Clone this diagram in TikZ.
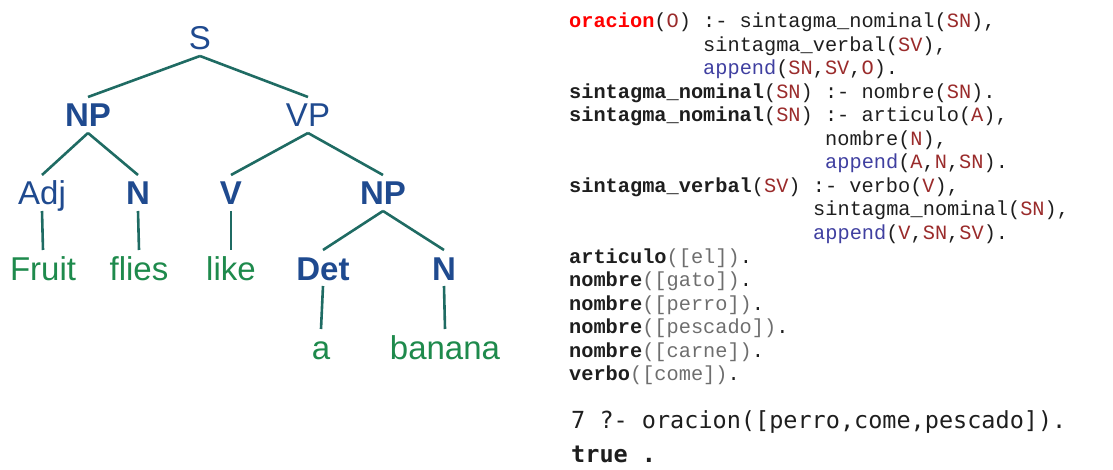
\documentclass[tikz,border=0pt]{standalone}
\usepackage{fontspec}
\setmainfont{Liberation Sans}
\newfontfamily\codefont{Liberation Mono}
\newfontfamily\termfont{DejaVu Sans Mono}
\definecolor{treeblue}{HTML}{1F4A8F}
\definecolor{treegreen}{HTML}{1E8A4C}
\definecolor{treeline}{HTML}{1F6B63}
\definecolor{predred}{HTML}{FF0000}
\definecolor{varred}{HTML}{9A2B2B}
\definecolor{appblue}{HTML}{3F3FA0}
\definecolor{listgray}{HTML}{6E6E6E}
\definecolor{codeblack}{HTML}{1E1E1E}
\newcommand{\pPred}[1]{\textcolor{predred}{\textbf{#1}}}
\newcommand{\pVar}[1]{\textcolor{varred}{#1}}
\newcommand{\pApp}[1]{\textcolor{appblue}{#1}}
\newcommand{\pList}[1]{\textcolor{listgray}{#1}}
\begin{document}
\begin{tikzpicture}[x=1pt,y=-1pt,
  cat/.style={font=\fontsize{33}{33}\selectfont, text=treeblue, inner sep=0pt, outer sep=6pt, text height=24pt, text depth=0pt},
  bcat/.style={cat, font=\fontsize{33}{33}\selectfont\bfseries},
  word/.style={cat, text=treegreen},
  edge/.style={draw=treeline, line width=2.6pt},
  code/.style={anchor=base west, inner sep=0pt, font=\fontsize{20.3}{23.5}\selectfont\codefont, text=codeblack},
  term/.style={anchor=base west, inner sep=0pt, font=\fontsize{23.5}{23.5}\selectfont\termfont, text=codeblack},
]
\useasboundingbox (0,0) rectangle (1113,470);
% tree
\node[cat]  (S)      at (200,38)  {S};
\node[bcat] (np1)    at (88,115)  {NP};
\node[cat]  (vp)     at (308,115) {VP};
\node[cat]  (adj)    at (42,193)  {Adj};
\node[bcat] (n1)     at (138,193) {N};
\node[bcat] (v)      at (231,193) {V};
\node[bcat] (np2)    at (383,193) {NP};
\node[word] (fruit)  at (43,268)  {Fruit};
\node[word] (flies)  at (139,268) {flies};
\node[word] (like)   at (231,268) {like};
\node[bcat] (det)    at (323,268) {Det};
\node[bcat] (n2)     at (444,268) {N};
\node[word] (a)      at (321,347) {a};
\node[word] (banana) at (445,347) {banana};
\draw[edge] (S.south) -- (np1.north);
\draw[edge] (S.south) -- (vp.north);
\draw[edge] (np1.south) -- (adj.north);
\draw[edge] (np1.south) -- (n1.north);
\draw[edge] (vp.south) -- (v.north);
\draw[edge] (vp.south) -- (np2.north);
\draw[edge] (adj.south) -- (fruit.north);
\draw[edge] (n1.south) -- (flies.north);
\draw[edge] (v.south) -- (like.north);
\draw[edge] (np2.south) -- (det.north);
\draw[edge] (np2.south) -- (n2.north);
\draw[edge] (det.south) -- (a.north);
\draw[edge] (n2.south) -- (banana.north);
% code
\node[code] (c1)  at (569,28)    {\pPred{oracion}(\pVar{O}) :- sintagma\_nominal(\pVar{SN}),};
\node[code] (c2)  at (703,51.5)  {sintagma\_verbal(\pVar{SV}),};
\node[code] (c3)  at (703,75)    {\pApp{append}(\pVar{SN},\pVar{SV},\pVar{O}).};
\node[code] (c4)  at (569,98.5)  {\textbf{sintagma\_nominal}(\pVar{SN}) :- nombre(\pVar{SN}).};
\node[code] (c5)  at (569,122)   {\textbf{sintagma\_nominal}(\pVar{SN}) :- articulo(\pVar{A}),};
\node[code] (c6)  at (825,145.5) {nombre(\pVar{N}),};
\node[code] (c7)  at (825,169)   {\pApp{append}(\pVar{A},\pVar{N},\pVar{SN}).};
\node[code] (c8)  at (569,192.5) {\textbf{sintagma\_verbal}(\pVar{SV}) :- verbo(\pVar{V}),};
\node[code] (c9)  at (813,216)   {sintagma\_nominal(\pVar{SN}),};
\node[code] (c10) at (813,239.5) {\pApp{append}(\pVar{V},\pVar{SN},\pVar{SV}).};
\node[code] (c11) at (569,263)   {\textbf{articulo}\pList{([el])}.};
\node[code] (c12) at (569,286.5) {\textbf{nombre}\pList{([gato])}.};
\node[code] (c13) at (569,310)   {\textbf{nombre}\pList{([perro])}.};
\node[code] (c14) at (569,333.5) {\textbf{nombre}\pList{([pescado])}.};
\node[code] (c15) at (569,357)   {\textbf{nombre}\pList{([carne])}.};
\node[code] (c16) at (569,380.5) {\textbf{verbo}\pList{([come])}.};
\node[term] (q1)  at (571,428)   {7 ?- oracion([perro,come,pescado]).};
\node[term] (q2)  at (571,462)   {\textbf{true .}};
\end{tikzpicture}
\end{document}
